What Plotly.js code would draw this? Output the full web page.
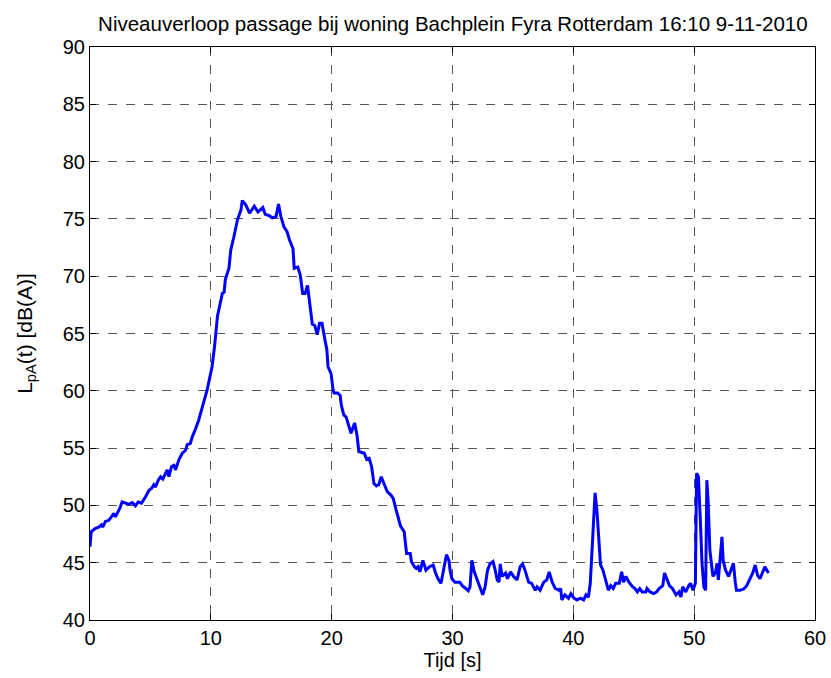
<!DOCTYPE html>
<html>
<head>
<meta charset="utf-8">
<script src="https://cdn.plot.ly/plotly-3.0.1.min.js"></script>
<style>html,body{margin:0;padding:0;background:#fff;}#chart{width:831px;height:678px;}</style>
</head>
<body>
<div id="chart"></div>
<script>
const tijd = [0.0,0.1,0.45,0.72,0.95,1.05,1.28,1.55,1.77,1.97,2.1,2.33,2.47,2.66,2.94,3.2,3.5,3.76,3.99,4.26,4.6,4.87,5.1,5.28,5.42,5.65,5.84,6.03,6.25,6.39,6.53,6.75,6.94,7.08,7.36,7.64,7.9,8.05,8.3,8.47,8.74,9.0,9.3,9.7,10.1,10.3,10.55,10.95,11.1,11.2,11.5,11.65,11.9,12.2,12.5,12.6,12.9,13.2,13.6,13.9,14.3,14.5,14.8,15.1,15.4,15.6,15.8,16.05,16.3,16.5,16.8,16.9,17.2,17.4,17.6,17.8,18.0,18.2,18.4,18.6,18.8,19.0,19.2,19.45,19.6,19.7,19.95,20.1,20.2,20.5,20.7,20.8,21.0,21.2,21.5,21.6,21.9,22.1,22.25,22.5,22.7,22.9,23.1,23.3,23.5,23.7,23.9,24.1,24.35,24.6,24.9,25.1,25.3,25.7,26.0,26.1,26.2,26.5,26.6,26.85,27.0,27.15,27.3,27.55,27.65,27.8,28.1,28.4,28.6,28.8,29.05,29.3,29.5,29.7,29.8,29.95,30.2,30.6,30.8,31.1,31.3,31.45,31.6,31.8,32.0,32.3,32.5,32.7,32.9,33.1,33.35,33.5,33.7,33.85,33.95,34.1,34.4,34.55,34.8,35.05,35.35,35.6,35.8,36.0,36.3,36.55,36.85,37.0,37.25,37.55,37.8,38.0,38.25,38.5,38.8,38.95,39.05,39.3,39.6,39.8,40.05,40.3,40.6,40.85,41.05,41.25,41.4,41.55,41.7,41.8,41.95,42.1,42.25,42.45,42.65,42.9,43.1,43.3,43.5,43.8,44.0,44.15,44.35,44.6,44.9,45.1,45.3,45.5,45.7,46.0,46.1,46.35,46.65,46.9,47.1,47.4,47.55,47.75,47.95,48.2,48.5,48.75,48.9,49.05,49.3,49.55,49.7,49.9,50.1,50.2,50.35,50.5,50.65,50.8,50.95,51.05,51.15,51.3,51.55,51.75,51.9,52.0,52.15,52.3,52.4,52.6,52.85,53.05,53.25,53.4,53.5,53.8,54.1,54.35,54.6,54.85,55.05,55.25,55.45,55.65,55.85,56.15];
const niveau = [46.4,47.7,48.0,48.1,48.3,48.1,48.6,48.7,49.0,49.3,49.0,49.45,49.75,50.3,50.2,50.1,50.25,49.95,50.3,50.2,50.75,51.3,51.5,51.8,51.6,52.2,52.5,52.3,52.8,53.1,52.5,53.4,53.5,53.1,54.0,54.55,54.8,55.3,55.4,56.0,56.7,57.45,58.6,60.1,62.1,63.8,66.5,68.5,68.6,69.7,70.7,72.3,73.4,74.9,75.8,76.6,76.2,75.5,76.1,75.6,76.0,75.4,75.3,75.1,75.2,76.3,75.2,74.3,73.9,73.2,72.4,70.7,70.8,70.1,68.5,68.5,69.2,67.3,65.8,65.7,64.9,65.9,65.9,64.4,63.6,62.1,61.5,60.2,59.8,59.8,59.6,58.75,57.9,57.7,56.6,56.3,57.2,56.1,54.7,54.6,54.55,54.0,54.1,53.4,51.9,51.7,51.8,52.5,51.9,51.2,50.9,50.6,49.75,48.2,47.7,46.6,45.8,45.8,45.1,44.65,44.5,44.65,44.2,45.2,44.8,44.35,44.65,44.8,44.1,43.6,43.2,44.65,45.7,45.2,44.35,43.6,43.3,43.3,43.0,42.75,42.55,42.9,45.2,44.2,43.6,42.75,42.2,42.9,44.35,44.9,45.1,44.5,43.5,43.3,44.9,43.8,44.1,43.6,44.2,43.8,43.5,44.65,44.9,44.35,43.3,43.2,42.6,42.9,42.6,43.3,43.5,44.2,43.3,42.75,42.6,42.75,41.75,42.2,41.9,42.3,41.9,41.75,41.9,41.75,42.2,42.0,43.2,46.1,50.0,51.1,49.6,46.7,44.8,44.35,43.5,42.6,43.0,42.75,43.2,43.2,44.2,43.3,43.8,43.3,42.9,42.75,42.45,42.75,42.45,42.45,42.75,42.45,42.3,42.45,42.75,43.0,44.1,43.5,43.0,42.75,42.2,42.45,42.0,42.9,42.45,43.0,43.2,42.6,43.2,52.8,52.5,49.0,44.95,42.9,42.6,52.2,50.5,46.1,43.8,44.1,44.95,43.5,45.2,47.25,45.2,44.35,43.8,44.35,44.95,43.3,42.6,42.6,42.7,43.0,43.6,44.1,44.8,43.9,43.6,44.2,44.65,44.1];
const xTicks = [0,10,20,30,40,50,60];
const yTicks = [40,45,50,55,60,65,70,75,80,85,90];
const titel = 'Niveauverloop passage bij woning Bachplein Fyra Rotterdam 16:10 9-11-2010';

const fontFam = 'Liberation Sans, Arial, Helvetica, sans-serif';
const axisCommon = {
  showline: true, mirror: 'ticks', linecolor: '#000', linewidth: 1,
  ticks: 'inside', ticklen: 6, tickcolor: '#000', tickwidth: 1,
  showgrid: true, gridcolor: '#555', griddash: 'dash', gridwidth: 1,
  zeroline: false, automargin: false, tickfont: {family: fontFam, size: 20, color: '#000'}
};
Plotly.newPlot('chart', [{
  x: tijd, y: niveau, type: 'scatter', mode: 'lines',
  line: {color: '#0000FF', width: 3}, hoverinfo: 'skip'
}], {
  width: 831, height: 678,
  margin: {l: 90, r: 16, t: 47, b: 58},
  paper_bgcolor: '#fff', plot_bgcolor: '#fff',
  showlegend: false,
  title: {text: titel, font: {family: fontFam, size: 20.5, color: '#000'}, x: 0.545, xanchor: 'center', y: 0.965, yanchor: 'middle'},
  xaxis: Object.assign({}, axisCommon, {range: [0, 60], tickvals: xTicks, ticktext: xTicks.map(String),
    title: {text: 'Tijd [s]', font: {family: fontFam, size: 20, color: '#000'}, standoff: 2}}),
  yaxis: Object.assign({}, axisCommon, {range: [40, 90], tickvals: yTicks, ticktext: yTicks.map(String),
    title: {text: 'L<sub>pA</sub>(t) [dB(A)]', font: {family: fontFam, size: 21, color: '#000'}, standoff: 24}})
}, {displayModeBar: false, staticPlot: true});
</script>
</body>
</html>
